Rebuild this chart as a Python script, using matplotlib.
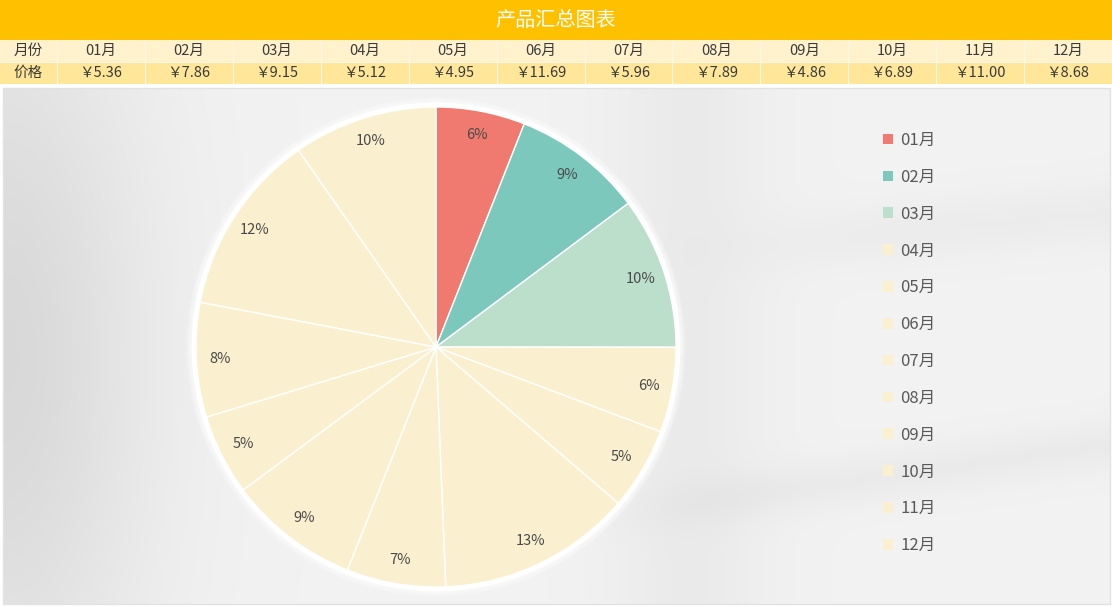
import numpy as np
import matplotlib
matplotlib.use("Agg")
import matplotlib.pyplot as plt
from matplotlib.patches import Rectangle, Circle

plt.rcParams['font.family'] = ['Noto Sans CJK SC', 'DejaVu Sans']

# ---- data ----
title = "产品汇总图表"
row_head = ["月份", "价格"]
months = ["01月", "02月", "03月", "04月", "05月", "06月",
          "07月", "08月", "09月", "10月", "11月", "12月"]
prices = [5.36, 7.86, 9.15, 5.12, 4.95, 11.69, 5.96, 7.89, 4.86, 6.89, 11.00, 8.68]
pct_labels = ["6%", "9%", "10%", "6%", "5%", "13%", "7%", "9%", "5%", "8%", "12%", "10%"]
colors = ["#F07A70", "#7CC8BD", "#BCDFCB"] + ["#FAF0CF"] * 9

W, H = 1112, 606
fig = plt.figure(figsize=(W / 100, H / 100), dpi=100)
fig.patch.set_facecolor("white")

# ---- header / table in pixel coordinates ----
hx = fig.add_axes([0, 0, 1, 1])
hx.set_xlim(0, W)
hx.set_ylim(H, 0)
hx.axis("off")

# softly shaded chart background
yy, xx = np.mgrid[0:520, 0:1107]
xn = xx / 1107.0
yn = yy / 520.0
sig = lambda v: 1.0 / (1.0 + np.exp(-v))
shade = 0.95 - 0.10 * np.exp(-(xn / 0.13) ** 2) * (0.6 + 0.4 * np.sin(yn * 3.0))
shade -= 0.03 * np.exp(-((xn - 0.62) / 0.07) ** 2)
shade -= 0.03 * np.exp(-((yn - 0.75 + 0.3 * (xn - 0.8)) / 0.05) ** 2) * sig((xn - 0.6) * 25)
shade -= 0.025 * np.exp(-((yn - 0.28 + 0.2 * (xn - 0.8)) / 0.06) ** 2) * sig((xn - 0.7) * 25)
shade = np.clip(shade, 0, 1)
hx.imshow(np.dstack([shade, shade, shade]), extent=(3, 1110, 604, 88),
          aspect="auto", zorder=0, interpolation="bilinear")
hx.add_patch(Rectangle((3, 88), 1107, 516, fill=False, ec="#E2E2E2", lw=1, zorder=1))

hx.add_patch(Rectangle((0, 0), W, 40, fc="#FFC000", ec="none", zorder=2))
hx.text(W / 2, 20, title, color="white", fontsize=14.5, ha="center", va="center", zorder=3)

row_y = [40, 62]
row_h = 22
row_fc = ["#FFF2CC", "#FFE699"]
first_w = 57
col_w = (W - first_w) / 12.0
for r in range(2):
    hx.add_patch(Rectangle((0, row_y[r]), W, row_h, fc=row_fc[r], ec="none", zorder=2))
    hx.text(first_w / 2, row_y[r] + row_h / 2, row_head[r], fontsize=10.5,
            color="#3A3A3A", ha="center", va="center", zorder=3)
    for i in range(12):
        x0 = first_w + i * col_w
        txt = months[i] if r == 0 else "￥%.2f" % prices[i]
        hx.text(x0 + col_w / 2, row_y[r] + row_h / 2, txt, fontsize=10.5,
                color="#3A3A3A", ha="center", va="center", zorder=3)
for i in range(13):
    x0 = first_w + i * col_w
    hx.plot([x0, x0], [40, 84], color="#FFF8E6", lw=0.8, zorder=3)
hx.plot([0, W], [62, 62], color="#FFF8E6", lw=0.8, zorder=3)

# ---- pie ----
cx, cy, R = 436, 347, 240
pax = fig.add_axes([(cx - R) / W, (H - cy - R) / H, 2 * R / W, 2 * R / H])
pax.set_xlim(-1, 1)
pax.set_ylim(-1, 1)
pax.axis("off")

for k in range(10):
    rr = 1.0 + 0.004 * (10 - k)
    pax.add_patch(Circle((0, 0), rr, fc="white", ec="none", alpha=0.18,
                         clip_on=False, zorder=0))
pax.add_patch(Circle((0, 0), 1.018, fc="white", ec="none", clip_on=False, zorder=0))

wedges, texts = pax.pie(prices, colors=colors, startangle=90, counterclock=False,
                        labels=pct_labels, labeldistance=0.9, radius=1,
                        wedgeprops=dict(edgecolor="white", linewidth=1.0),
                        textprops=dict(fontsize=10.5, color="#4A4A4A"))
for t in texts:
    t.set_ha("center")
    t.set_va("center")
for w in wedges:
    w.set_clip_on(False)
pax.set_xlim(-1, 1)
pax.set_ylim(-1, 1)

leg = fig.legend(wedges, months, loc="upper left",
                 bbox_to_anchor=(868 / W, 1 - 117 / H), frameon=False,
                 fontsize=12, labelcolor="#595959", handlelength=0.6,
                 handleheight=0.6, handletextpad=0.45, labelspacing=1.19)
for h in leg.legend_handles:
    h.set_edgecolor("none")

fig.savefig("out.png", dpi=100, facecolor=fig.get_facecolor())
